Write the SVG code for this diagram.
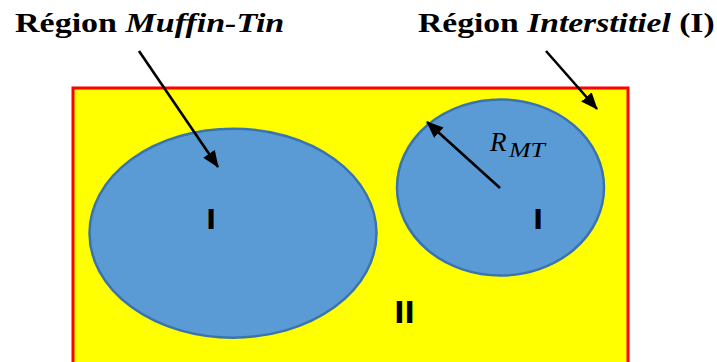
<svg xmlns="http://www.w3.org/2000/svg" width="717" height="362" viewBox="0 0 717 362">
  <style>
    .title { font-family: "Liberation Serif", "Times New Roman", serif; font-weight: bold; font-size: 28px; fill: #000; }
    .it { font-style: italic; }
    .region { fill: #5B9BD5; stroke: #3A74AE; stroke-width: 2.5; }
    .lbl { font-family: "Liberation Sans", Arial, sans-serif; font-weight: bold; fill: #000; text-anchor: middle; }
    .arrow { stroke: #000; stroke-width: 2.6; fill: none; marker-end: url(#head); }
    .math { font-family: "Liberation Serif", "Times New Roman", serif; font-style: italic; fill: #000; }
  </style>
  <defs>
    <marker id="head" markerUnits="userSpaceOnUse" markerWidth="17" markerHeight="14" refX="16" refY="7" orient="auto">
      <path d="M0,0 L17,7 L0,14 Z" fill="#000"/>
    </marker>
  </defs>

  <g id="cell">
    <rect x="73" y="88" width="555" height="290" fill="#FFFF00" stroke="#FF0000" stroke-width="3"/>
  </g>

  <g id="sphere-large">
    <ellipse class="region" cx="233" cy="233.2" rx="143.5" ry="104.5"/>
    <text class="lbl" x="211" y="229" font-size="29" transform="translate(211,0) scale(1.2,1) translate(-211,0)">I</text>
  </g>

  <g id="sphere-small">
    <ellipse class="region" cx="500.5" cy="187.5" rx="103.5" ry="88"/>
    <text class="lbl" x="538" y="229" font-size="29" transform="translate(538,0) scale(1.2,1) translate(-538,0)">I</text>
  </g>

  <g id="interstitial">
    <text class="lbl" x="404.5" y="323" font-size="32" transform="translate(404.5,0) scale(1.15,1) translate(-404.5,0)">II</text>
  </g>

  <g id="label-muffin-tin">
    <text class="title" transform="translate(15,32) scale(1.215,1)">Région <tspan class="it">Muffin-Tin</tspan></text>
  </g>

  <g id="label-interstitiel">
    <text class="title" transform="translate(418,32) scale(1.2,1)">Région <tspan class="it">Interstitiel</tspan> (I)</text>
  </g>

  <g id="label-rmt">
    <text class="math" x="490" y="151" font-size="27">R</text>
    <text class="math" x="509" y="157" font-size="20" textLength="36" lengthAdjust="spacingAndGlyphs">MT</text>
  </g>

  <g id="connectors">
    <line class="arrow" x1="139" y1="51" x2="218" y2="167"/>
    <line class="arrow" x1="546" y1="51" x2="597" y2="109"/>
    <line class="arrow" x1="500" y1="188" x2="427" y2="122"/>
  </g>
</svg>
